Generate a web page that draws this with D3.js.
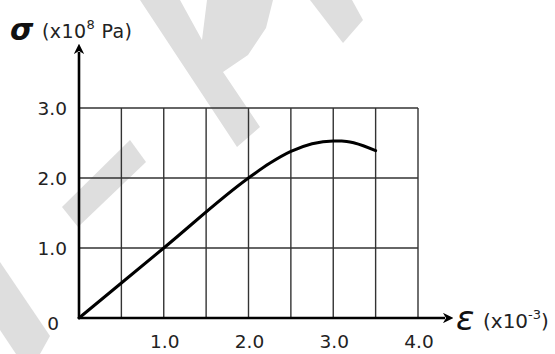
<!DOCTYPE html>
<html>
<head>
<meta charset="utf-8">
<script src="https://cdn.jsdelivr.net/npm/d3@7"></script>
<style>
  html, body { margin: 0; padding: 0; background: #fff; }
  svg { display: block; }
  .tick-label { font-family: "DejaVu Sans", sans-serif; font-size: 18.5px; fill: #222; }
  .unit { font-family: "DejaVu Sans", sans-serif; fill: #222; }
  .sym { font-family: "DejaVu Sans", sans-serif; font-style: italic; fill: #111; }
</style>
</head>
<body>
<div class="chart-wrapper"></div>
<script>
// stress-strain curve
const strain = [0, 1.0, 2.0, 2.25, 2.5, 2.75, 3.0, 3.1, 3.25, 3.5]
const stress = [0, 1.0, 2.0, 2.21, 2.38, 2.49, 2.53, 2.53, 2.50, 2.39]

const xTickValues = [1.0, 2.0, 3.0, 4.0]
const yTickValues = [1.0, 2.0, 3.0]
const xGridValues = [0.5, 1.0, 1.5, 2.0, 2.5, 3.0, 3.5, 4.0]
const yGridValues = [1.0, 2.0, 3.0]

const width = 555
const height = 354

let x = d3.scaleLinear()
.domain([0, 4])
.range([79, 418])

let y = d3.scaleLinear()
.domain([0, 3])
.range([318, 108])

const svg = d3.select('.chart-wrapper')
.append('svg')
.attr('width', width)
.attr('height', height)

// faint watermark behind everything
const marks = svg.append('g').attr('fill', '#dedede')
const watermark = [
    [[140,0],[180,0],[202,40],[207,0],[273,0],[266,28],[248,55],[223,72],[260,127],[237,147]],
    [[310,0],[352,0],[363,20],[343,43]],
    [[130,140],[146,162],[78,227],[62,207]],
    [[0,262],[50,336],[40,354],[16,354],[0,330]]
]
marks.selectAll('polygon')
.data(watermark)
.enter()
.append('polygon')
.attr('points', d => d.map(p => p.join(',')).join(' '))

const grid = svg.append('g')
.attr('stroke', '#333')
.attr('stroke-width', 1.4)

grid.selectAll('.vgrid')
.data(xGridValues)
.enter()
.append('line')
.attr('x1', d => x(d))
.attr('x2', d => x(d))
.attr('y1', y(0))
.attr('y2', y(3))

grid.selectAll('.hgrid')
.data(yGridValues)
.enter()
.append('line')
.attr('x1', x(0))
.attr('x2', x(4))
.attr('y1', d => y(d))
.attr('y2', d => y(d))

// axes with arrow heads
svg.append('defs')
.append('marker')
.attr('id', 'arrow')
.attr('viewBox', '0 0 10 10')
.attr('refX', 2)
.attr('refY', 5)
.attr('markerWidth', 4)
.attr('markerHeight', 4)
.attr('orient', 'auto')
.append('path')
.attr('d', 'M0,0 L10,5 L0,10 L3,5 Z')
.attr('fill', '#000')

svg.append('line')
.attr('x1', x(0)).attr('y1', y(0))
.attr('x2', x(0)).attr('y2', 52)
.attr('stroke', '#000')
.attr('stroke-width', 2.6)
.attr('marker-end', 'url(#arrow)')

svg.append('line')
.attr('x1', x(0)).attr('y1', y(0))
.attr('x2', 445).attr('y2', y(0))
.attr('stroke', '#000')
.attr('stroke-width', 2.6)
.attr('marker-end', 'url(#arrow)')

// the curve
let line = d3.line()
.x((d, i) => x(strain[i]))
.y(d => y(d))
.curve(d3.curveMonotoneX)

svg.append('path')
.datum(stress)
.attr('d', line)
.attr('fill', 'none')
.attr('stroke', '#000')
.attr('stroke-width', 3)
.attr('stroke-linecap', 'round')

// tick labels
svg.selectAll('.xlab')
.data(xTickValues)
.enter()
.append('text')
.attr('class', 'tick-label')
.attr('x', d => x(d) + 1)
.attr('y', 348)
.attr('text-anchor', 'middle')
.text(d => d.toFixed(1))

svg.selectAll('.ylab')
.data(yTickValues)
.enter()
.append('text')
.attr('class', 'tick-label')
.attr('x', 67)
.attr('y', d => y(d) + 7)
.attr('text-anchor', 'end')
.text(d => d.toFixed(1))

svg.append('text')
.attr('class', 'tick-label')
.attr('x', 59)
.attr('y', 330)
.attr('text-anchor', 'end')
.text('0')

// axis titles
svg.append('text')
.attr('class', 'sym')
.attr('x', 10)
.attr('y', 40)
.style('font-size', '30px')
.style('font-weight', 'bold')
.text('σ')

let yUnit = svg.append('text')
.attr('class', 'unit')
.attr('x', 42)
.attr('y', 38)
.style('font-size', '19px')
.style('letter-spacing', '0.4px')
yUnit.append('tspan').text('(x10')
yUnit.append('tspan').attr('dy', -9).style('font-size', '13px').text('8')
yUnit.append('tspan').attr('dy', 9).text(' Pa)')

svg.append('text')
.attr('class', 'sym')
.attr('x', 456)
.attr('y', 330)
.style('font-size', '34px')
.text('ε')

let xUnit = svg.append('text')
.attr('class', 'unit')
.attr('x', 483)
.attr('y', 328)
.style('font-size', '20px')
xUnit.append('tspan').text('(x10')
xUnit.append('tspan').attr('dy', -9).style('font-size', '13px').text('-3')
xUnit.append('tspan').attr('dy', 9).text(')')
</script>
</body>
</html>
